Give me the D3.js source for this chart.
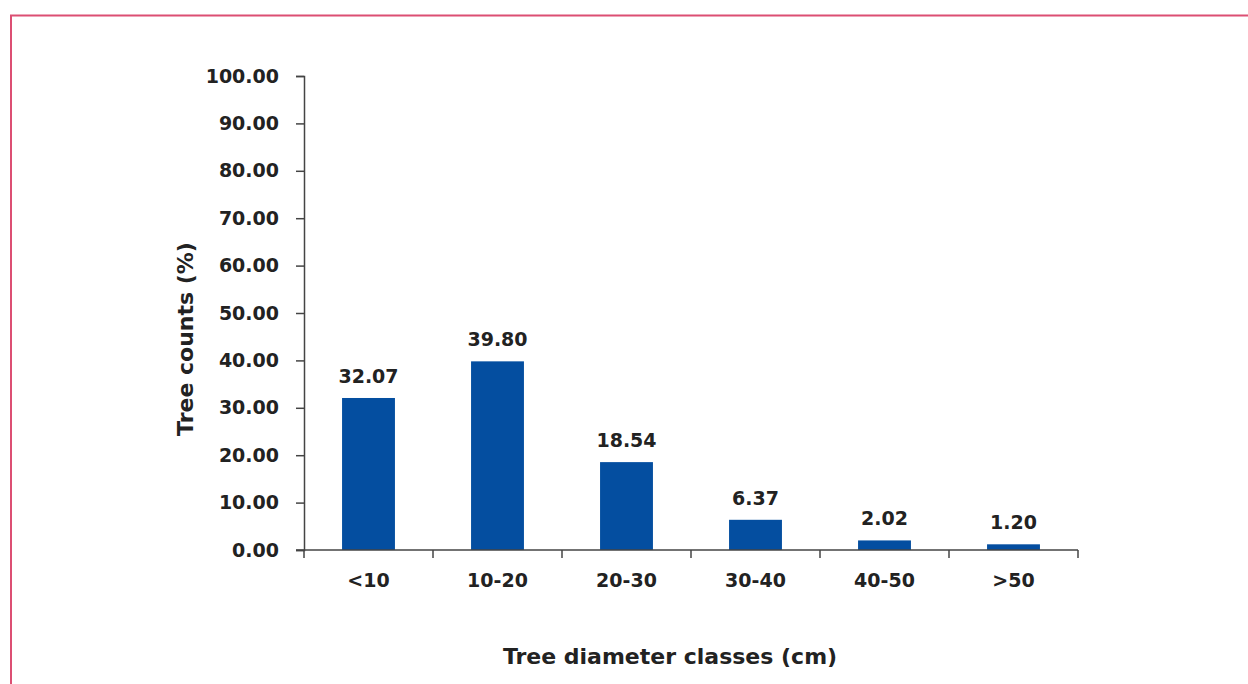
<!DOCTYPE html>
<html>
<head>
<meta charset="utf-8">
<script src="https://cdn.jsdelivr.net/npm/d3@7"></script>
<style>
  body { margin: 0; background: #fff; }
  svg { display: block; font-family: "DejaVu Sans", sans-serif; }
</style>
</head>
<body>
<svg width="1248" height="684"></svg>
<script>
// data
var classes = ["<10", "10-20", "20-30", "30-40", "40-50", ">50"]
var counts = [32.07, 39.80, 18.54, 6.37, 2.02, 1.20]
var yTicks = [0, 10, 20, 30, 40, 50, 60, 70, 80, 90, 100]

var svg = d3.select("svg"),
  margin = {top: 76, right: 170, bottom: 134, left: 304},
  width = +svg.attr("width") - margin.left - margin.right,
  height = +svg.attr("height") - margin.top - margin.bottom

// frame around the figure (only left and top visible)
svg.append("path")
  .attr("d", "M11,684 V15.5 H1248")
  .attr("fill", "none")
  .attr("stroke", "#dc4f73")
  .attr("stroke-width", 2)

var g = svg.append("g").attr("transform", "translate(" + margin.left + "," + margin.top + ")")

var x = d3.scaleBand()
  .domain(classes)
  .range([0, width])
  .paddingInner(0.59)
  .paddingOuter(0.295)

var y = d3.scaleLinear()
  .domain([0, 100])
  .range([height, 0])

// bars
g.selectAll(".bar")
  .data(counts)
  .enter().append("rect")
    .attr("class", "bar")
    .attr("x", function (d, i) { return x(classes[i]) })
    .attr("y", function (d) { return y(d) })
    .attr("width", x.bandwidth())
    .attr("height", function (d) { return height - y(d) })
    .attr("fill", "#044ea0")

// value labels
g.selectAll(".val")
  .data(counts)
  .enter().append("text")
    .attr("class", "val")
    .attr("x", function (d, i) { return x(classes[i]) + x.bandwidth() / 2 })
    .attr("y", function (d) { return y(d) - 15 })
    .attr("text-anchor", "middle")
    .attr("font-size", 19)
    .attr("font-weight", "bold")
    .attr("fill", "#222")
    .text(function (d) { return d.toFixed(2) })

// y axis
var yAxis = g.append("g")
  .call(d3.axisLeft(y).tickValues(yTicks).tickSize(8).tickPadding(17)
    .tickFormat(function (d) { return d.toFixed(2) }))
yAxis.select(".domain").attr("stroke", "#444").attr("stroke-width", 1.5)
yAxis.selectAll(".tick line").attr("stroke", "#444").attr("stroke-width", 1.5)
yAxis.selectAll(".tick text")
  .attr("font-size", 19)
  .attr("font-weight", "bold")
  .attr("fill", "#222")
  .attr("font-family", "DejaVu Sans, sans-serif")

// x axis: line with ticks at the category boundaries
var xAxis = g.append("g").attr("transform", "translate(0," + height + ")")
xAxis.append("line")
  .attr("x1", -8).attr("x2", width)
  .attr("stroke", "#444").attr("stroke-width", 1.5)
var step = x.step()
xAxis.selectAll(".bound")
  .data(d3.range(classes.length + 1))
  .enter().append("line")
    .attr("x1", function (i) { return i * step })
    .attr("x2", function (i) { return i * step })
    .attr("y1", 0).attr("y2", 8)
    .attr("stroke", "#444").attr("stroke-width", 1.5)
xAxis.selectAll(".lab")
  .data(classes)
  .enter().append("text")
    .attr("x", function (d) { return x(d) + x.bandwidth() / 2 })
    .attr("y", 37)
    .attr("text-anchor", "middle")
    .attr("font-size", 19)
    .attr("font-weight", "bold")
    .attr("fill", "#222")
    .text(function (d) { return d })

// axis titles
svg.append("text")
  .attr("transform", "translate(193,339) rotate(-90)")
  .attr("text-anchor", "middle")
  .attr("font-size", 22)
  .attr("font-weight", "bold")
  .attr("fill", "#222")
  .text("Tree counts (%)")

svg.append("text")
  .attr("x", 670)
  .attr("y", 664)
  .attr("text-anchor", "middle")
  .attr("font-size", 22)
  .attr("font-weight", "bold")
  .attr("fill", "#222")
  .text("Tree diameter classes (cm)")
</script>
</body>
</html>
